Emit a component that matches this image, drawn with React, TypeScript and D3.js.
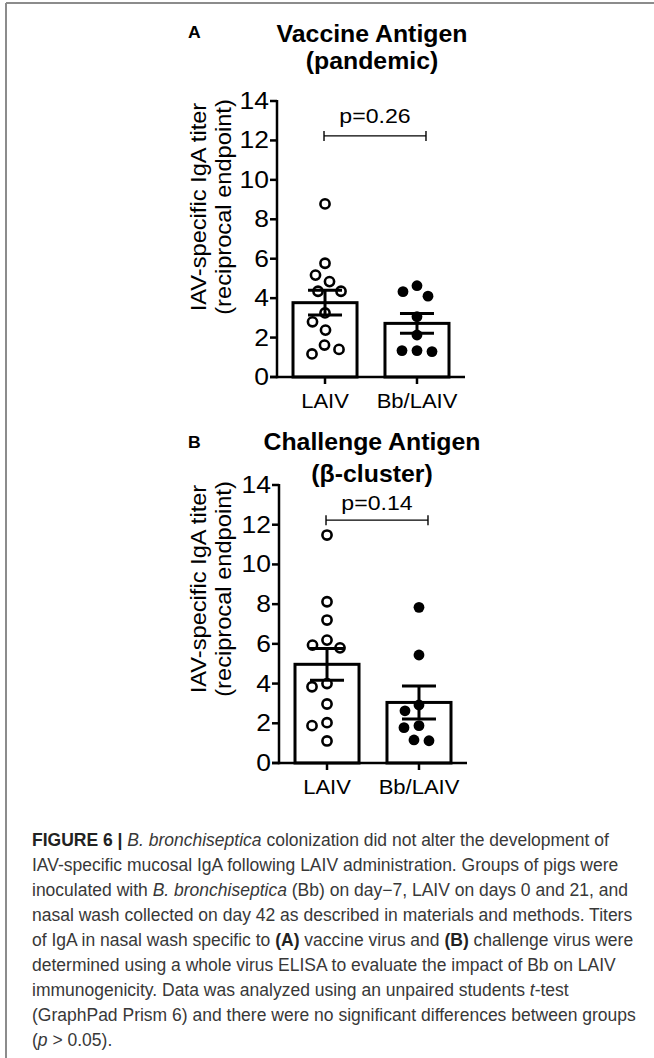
import React from "react";
import * as d3 from "d3";

const groups = ["LAIV", "Bb/LAIV"];
const yTicks = [0, 2, 4, 6, 8, 10, 12, 14];

// A: vaccine antigen (pandemic)
const vaccineLAIV = [8.78, 5.77, 5.17, 4.84, 4.35, 4.35, 3.25, 2.8, 2.38, 1.62, 1.4, 1.17];
const vaccineBbLAIV = [4.63, 4.33, 4.1, 3.06, 2.13, 1.34, 1.29, 1.34];
const vaccineMean = [3.77, 2.72];
const vaccineSem = [0.63, 0.5];

// B: challenge antigen (beta-cluster)
const challengeLAIV = [11.48, 8.12, 7.2, 6.19, 5.94, 5.8, 4.0, 3.84, 2.97, 2.03, 1.88, 1.11];
const challengeBbLAIV = [7.84, 5.44, 2.92, 2.63, 1.88, 1.78, 1.16, 1.12];
const challengeMean = [4.97, 3.05];
const challengeSem = [0.8, 0.83];

const pLabels = ["p=0.26", "p=0.14"];
const bracketAt = 12.23;

const yLabel = ["IAV-specific IgA titer", "(reciprocal endpoint)"];

type Seg = [string, string?];
const caption: Seg[][] = [
  [["FIGURE 6 | ", "b"], ["B. bronchiseptica", "i"], [" colonization did not alter the development of"]],
  [["IAV-specific mucosal IgA following LAIV administration. Groups of pigs were"]],
  [["inoculated with "], ["B. bronchiseptica", "i"], [" (Bb) on day\u22127, LAIV on days 0 and 21, and"]],
  [["nasal wash collected on day 42 as described in materials and methods. Titers"]],
  [["of IgA in nasal wash specific to "], ["(A)", "b"], [" vaccine virus and "], ["(B)", "b"], [" challenge virus were"]],
  [["determined using a whole virus ELISA to evaluate the impact of Bb on LAIV"]],
  [["immunogenicity. Data was analyzed using an unpaired students "], ["t", "i"], ["-test"]],
  [["(GraphPad Prism 6) and there were no significant differences between groups"]],
  [["("], ["p", "i"], [" > 0.05)."]],
];

const FONT = "'Liberation Sans', Arial, Helvetica, sans-serif";

// simple beeswarm: place each value as close to the centre as possible
function swarm(values: number[], y: (v: number) => number, minDist: number) {
  const placed: { dx: number; py: number }[] = [];
  const out: { dx: number; py: number; v: number }[] = new Array(values.length);
  const order = values.map((_, i) => i).sort((a, b) => values[b] - values[a]);
  for (const i of order) {
    const py = y(values[i]);
    let dx = 0;
    for (let k = 0; k < 400; k++) {
      const cand = k === 0 ? 0 : (k % 2 ? -1 : 1) * Math.ceil(k / 2) * 0.5;
      if (placed.every((p) => Math.hypot(p.dx - cand, p.py - py) >= minDist)) {
        dx = cand;
        break;
      }
    }
    placed.push({ dx, py });
    out[i] = { dx, py, v: values[i] };
  }
  return out;
}

function T(props: any) {
  const { x, y, size, anchor = "middle", weight = "normal", sx = 1.1, rotate = 0, children } = props;
  return (
    <text
      transform={`translate(${x},${y}) rotate(${rotate}) scale(${sx},1)`}
      fontSize={size}
      textAnchor={anchor}
      fontWeight={weight}
      fontFamily={FONT}
      fill="#000"
    >
      {children}
    </text>
  );
}

function Panel(props: any) {
  const { letter, title, titleY, letterY, series, mean, sem, p, pY, top, bottom, axisX, labelY } = props;

  const y = d3.scaleLinear().domain([0, 14]).range([bottom, top]);
  const x = d3
    .scaleBand()
    .domain(groups)
    .range([axisX, axisX + 188])
    .paddingInner(0.304)
    .paddingOuter(0.174);
  const bw = x.bandwidth();
  const cx = (g: string) => (x(g) as number) + bw / 2;

  const bx1 = cx(groups[0]) - 1;
  const bx2 = cx(groups[1]) + 9;
  const by = y(bracketAt);

  return (
    <g>
      <T x={188} y={letterY} size={16} anchor="start" weight="bold">{letter}</T>
      <T x={372} y={titleY[0]} size={23} weight="bold" sx={1.08}>{title[0]}</T>
      <T x={372} y={titleY[1]} size={23} weight="bold" sx={1.08}>{title[1]}</T>

      {/* y label */}
      <T x={206} y={labelY} size={21.5} rotate={-90}>{yLabel[0]}</T>
      <T x={231} y={labelY} size={21.5} rotate={-90}>{yLabel[1]}</T>

      {/* bars */}
      {groups.map((g, i) => (
        <rect
          key={g}
          x={x(g)}
          y={y(mean[i])}
          width={bw}
          height={y(0) - y(mean[i])}
          fill="#fff"
          stroke="#000"
          strokeWidth={3}
        />
      ))}

      {/* points */}
      {groups.map((g, gi) =>
        swarm(series[gi], y, 15).map((d, i) =>
          gi === 0 ? (
            <circle key={g + i} cx={cx(g) + d.dx} cy={d.py} r={4.6} fill="none" stroke="#000" strokeWidth={2.6} />
          ) : (
            <circle key={g + i} cx={cx(g) + d.dx} cy={d.py} r={5.4} fill="#000" />
          )
        )
      )}

      {/* error bars */}
      {groups.map((g, i) => {
        const c = cx(g);
        const hi = y(mean[i] + sem[i]);
        const lo = y(mean[i] - sem[i]);
        return (
          <g key={"e" + g} stroke="#000" strokeWidth={3}>
            <line x1={c} x2={c} y1={hi} y2={lo} />
            <line x1={c - 17} x2={c + 17} y1={hi} y2={hi} />
            <line x1={c - 17} x2={c + 17} y1={lo} y2={lo} />
          </g>
        );
      })}

      {/* axes */}
      <g stroke="#000" strokeWidth={2.5}>
        <line x1={axisX} x2={axisX} y1={y(14) - 1} y2={y(0) + 1.25} />
        <line x1={axisX - 7} x2={axisX + 188} y1={y(0)} y2={y(0)} />
        {yTicks.map((t) => (
          <line key={t} x1={axisX - 7} x2={axisX} y1={y(t)} y2={y(t)} />
        ))}
        {groups.map((g) => (
          <line key={g} x1={cx(g)} x2={cx(g)} y1={y(0)} y2={y(0) + 7} />
        ))}
      </g>
      {yTicks.map((t) => (
        <T key={t} x={axisX - 8} y={y(t) + 8} size={23} anchor="end" sx={1.15}>{t}</T>
      ))}
      {groups.map((g) => (
        <T key={g} x={cx(g)} y={y(0) + 31} size={20}>{g}</T>
      ))}

      {/* significance bracket */}
      <g stroke="#000" strokeWidth={1.4}>
        <line x1={bx1} x2={bx2} y1={by} y2={by} />
        <line x1={bx1} x2={bx1} y1={by - 5} y2={by + 5} />
        <line x1={bx2} x2={bx2} y1={by - 5} y2={by + 5} />
      </g>
      <T x={(bx1 + bx2) / 2} y={pY} size={21}>{p}</T>
    </g>
  );
}

export default function App() {
  const W = 654;
  const H = 1058;
  const capTop = 846;
  const capStep = 25;

  return (
    <svg
      width={W}
      height={H}
      viewBox={`0 0 ${W} ${H}`}
      style={{ position: "absolute", left: 0, top: 0, background: "#fff" }}
    >
      <rect width={W} height={H} fill="#fff" />
      <line x1={6} x2={W} y1={3} y2={3} stroke="#8c8c8c" strokeWidth={2} />
      <line x1={6} x2={6} y1={3} y2={H} stroke="#8c8c8c" strokeWidth={2} />

      <Panel
        letter="A"
        letterY={38}
        title={["Vaccine Antigen", "(pandemic)"]}
        titleY={[42, 69]}
        series={[vaccineLAIV, vaccineBbLAIV]}
        mean={vaccineMean}
        sem={vaccineSem}
        p={pLabels[0]}
        pY={123}
        top={101}
        bottom={377}
        axisX={277}
        labelY={207}
      />
      <Panel
        letter="B"
        letterY={448}
        title={["Challenge Antigen", "(\u03b2-cluster)"]}
        titleY={[450, 482]}
        series={[challengeLAIV, challengeBbLAIV]}
        mean={challengeMean}
        sem={challengeSem}
        p={pLabels[1]}
        pY={510}
        top={485}
        bottom={763}
        axisX={279}
        labelY={589}
      />

      <text fontFamily={FONT} fontSize={17.5} fill="#383838" style={{ whiteSpace: "pre" }}>
        {caption.map((line, li) => (
          <tspan key={li} x={32} y={capTop + li * capStep}>
            {line.map((s, si) => (
              <tspan
                key={si}
                fontWeight={s[1] === "b" ? "bold" : "normal"}
                fontStyle={s[1] === "i" ? "italic" : "normal"}
                fill={s[1] === "b" ? "#222" : undefined}
              >
                {s[0]}
              </tspan>
            ))}
          </tspan>
        ))}
      </text>
    </svg>
  );
}
